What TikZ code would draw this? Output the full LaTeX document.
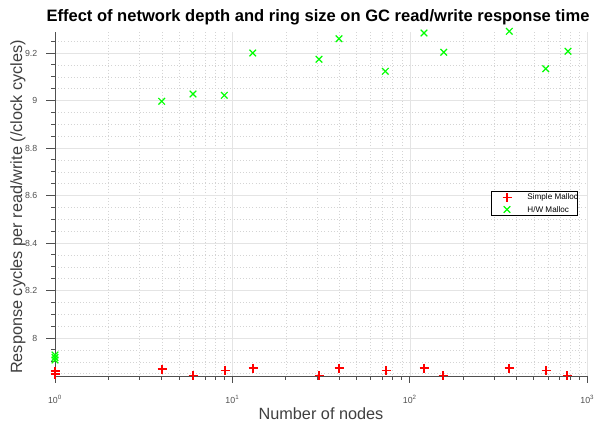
\documentclass[tikz,border=0pt]{standalone}
\usepackage{fontspec}
\setmainfont{Liberation Sans}

\definecolor{axisgray}{RGB}{80,80,80}
\definecolor{labelgray}{RGB}{64,64,64}
\definecolor{gridmaj}{RGB}{228,228,228}
\definecolor{gridmin}{RGB}{212,212,212}

\tikzset{
  gridminor/.style={draw=gridmin, line width=0.35pt, dotted},
  gridmajor/.style={draw=gridmaj, line width=0.5pt},
  axisline/.style={draw=axisgray, line width=0.6pt},
  ticklab/.style={text=axisgray, font=\fontsize{6.6}{7}\selectfont},
  plusred/.style={draw={rgb, 255:red, 255; green, 0; blue, 0 }, draw opacity=1, line width=1pt},
  crossgreen/.style={draw={rgb, 255:red, 0; green, 255; blue, 0 }, draw opacity=1, line width=0.9pt},
}

% markers: + and x, at pixel positions
\newcommand{\plusmk}[2]{\draw[plusred] ({#1-4.5},#2) -- ({#1+4.5},#2);\draw[plusred] (#1,{#2-4.5}) -- (#1,{#2+4.5});}
\newcommand{\crossmk}[2]{\draw[crossgreen] ({#1-3.3},{#2-3.3}) -- ({#1+3.3},{#2+3.3});\draw[crossgreen] ({#1-3.3},{#2+3.3}) -- ({#1+3.3},{#2-3.3});}

\begin{document}
\begin{tikzpicture}[x=0.75pt,y=0.75pt,yscale=-1,xscale=1]
\useasboundingbox (0,0) rectangle (598,425);
\fill[white] (0,0) rectangle (598,425);

%Grid: minor lines
\foreach \d in {0,1,2}{
  \foreach \k in {2,...,9}{
    \draw[gridminor] ({55+177.43*(\d+log10(\k))},32) -- ({55+177.43*(\d+log10(\k))},376);
  }
}
\foreach \m in {-25,...,3}{
  \draw[gridminor] (55,{338+11.875*\m}) -- (587.3,{338+11.875*\m});
}
%Grid: major lines
\foreach \xx in {232.43,409.86,587.29}{
  \draw[gridmajor] (\xx,32) -- (\xx,376);
}
\foreach \yy in {338,290.5,243,195.5,148,100.5,53}{
  \draw[gridmajor] (55,\yy) -- (587.3,\yy);
}

%Axes
\draw[axisline] (55,32) -- (55,376) -- (587.3,376);
%Y ticks
\foreach \m in {-25,...,3}{
  \draw[axisline] (51,{338+11.875*\m}) -- (55,{338+11.875*\m});
}
\foreach \yy/\lab in {338/8,290.5/8.2,243/8.4,195.5/8.6,148/8.8,100.5/9,53/9.2}{
  \draw[axisline] (46,\yy) -- (55,\yy);
  \draw (42,\yy) node (yt\lab) [ticklab, anchor=east] {\lab};
}
%X ticks
\foreach \d in {0,1,2}{
  \foreach \k in {2,...,9}{
    \draw[axisline] ({55+177.43*(\d+log10(\k))},376) -- ({55+177.43*(\d+log10(\k))},380);
  }
}
\foreach \xx/\e in {55/0,232.43/1,409.86/2,587.29/3}{
  \draw[axisline] (\xx,376) -- (\xx,383);
  \draw (\xx,399) node (xt\e) [ticklab] {10\textsuperscript{\e}};
}

%Simple Malloc
\plusmk{55}{371}
\plusmk{55}{374}
\plusmk{162}{369}
\plusmk{193}{375.5}
\plusmk{225}{370.5}
\plusmk{253}{368}
\plusmk{319}{375.5}
\plusmk{339}{368}
\plusmk{386}{370.5}
\plusmk{424}{368}
\plusmk{443}{375.5}
\plusmk{509}{368}
\plusmk{546}{370.5}
\plusmk{567}{375.5}

%H/W Malloc
\crossmk{55}{355}
\crossmk{55}{357.5}
\crossmk{55}{360}
\crossmk{161.7}{101.3}
\crossmk{193}{94}
\crossmk{224.3}{95.3}
\crossmk{252.7}{53}
\crossmk{319}{59.3}
\crossmk{339}{38.7}
\crossmk{385.3}{71.3}
\crossmk{424}{33}
\crossmk{443.7}{52.3}
\crossmk{509.3}{31.3}
\crossmk{545.7}{68.7}
\crossmk{568}{51.3}

%Legend
\draw[fill=white, line width=0.5pt] (491,191) rectangle (577.3,215);
\plusmk{507}{197.5}
\crossmk{507}{209.5}
% Text Node
\draw (522.7,197.5) node (legA) [anchor=west, font=\fontsize{6.1}{7}\selectfont] {Simple Malloc};
% Text Node
\draw (522.7,209.5) node (legB) [anchor=west, font=\fontsize{6.1}{7}\selectfont] {H/W Malloc};

% Text Node
\draw (318,17) node (ttl) [font=\fontsize{12.4}{14}\selectfont\bfseries] {Effect of network depth and ring size on GC read/write response time};
% Text Node
\draw (321,414) node (xlab) [text=labelgray, font=\fontsize{12.2}{14}\selectfont] {Number of nodes};
% Text Node
\draw (18,207) node (ylab) [text=labelgray, rotate=90, font=\fontsize{12.2}{14}\selectfont] {Response cycles per read/write (/clock cycles)};

\end{tikzpicture}
\end{document}
